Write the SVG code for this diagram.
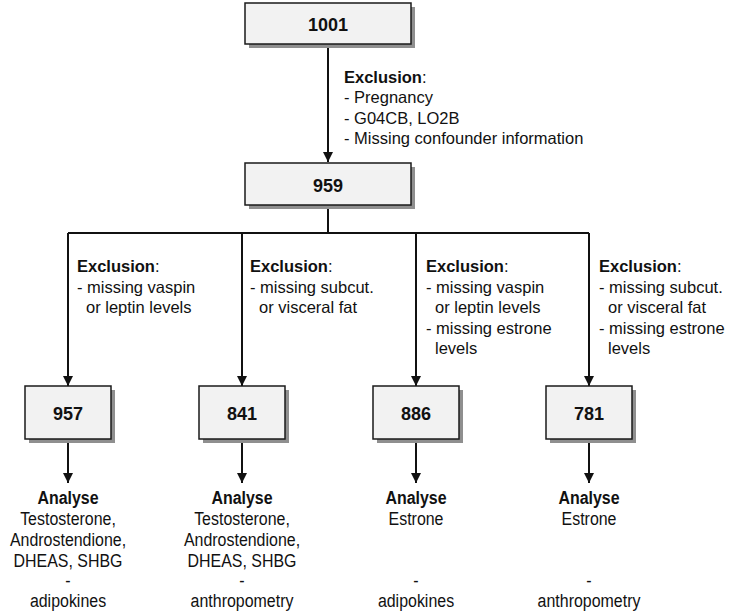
<svg xmlns="http://www.w3.org/2000/svg" width="733" height="613" viewBox="0 0 733 613">
<style>
.box{fill:#f2f2f2;stroke:#1a1a1a;stroke-width:1.5}
.sh{fill:#8f8f8f}
.num{font-family:"Liberation Sans",Arial,sans-serif;font-size:18px;font-weight:bold;text-anchor:middle;fill:#111}
.t{font-family:"Liberation Sans",Arial,sans-serif;font-size:16.5px;fill:#111}
.an{font-family:"Liberation Sans",Arial,sans-serif;font-size:19px;fill:#111;text-anchor:middle}
.b{font-weight:bold}
.ln{stroke:#111;stroke-width:2;fill:none}
</style>
<defs>
<marker id="ah" viewBox="0 0 10 10" refX="10" refY="5" markerWidth="10" markerHeight="10" markerUnits="userSpaceOnUse" orient="auto">
<path d="M0,0 L10,5 L0,10 Z" fill="#111"/>
</marker>
</defs>
<g id="connectors">
<path class="ln" d="M328,44 V162" marker-end="url(#ah)"/>
<path class="ln" d="M328,205 V233"/>
<path class="ln" d="M68,233 H589"/>
<path class="ln" d="M68,233 V386" marker-end="url(#ah)"/>
<path class="ln" d="M242,233 V386" marker-end="url(#ah)"/>
<path class="ln" d="M416,233 V386" marker-end="url(#ah)"/>
<path class="ln" d="M589,233 V386" marker-end="url(#ah)"/>
<path class="ln" d="M68,439 V483" marker-end="url(#ah)"/>
<path class="ln" d="M242,439 V483" marker-end="url(#ah)"/>
<path class="ln" d="M416,439 V483" marker-end="url(#ah)"/>
<path class="ln" d="M589,439 V483" marker-end="url(#ah)"/>
</g>
<g id="n1001">
<rect class="sh" x="249" y="7" width="166" height="41"/>
<rect class="box" x="245" y="3" width="166" height="41"/>
<text class="num" x="328" y="31">1001</text>
</g>
<g id="excl0">
<text class="t" x="344" y="83"><tspan class="b">Exclusion</tspan>:</text>
<text class="t" x="344" y="103">- Pregnancy</text>
<text class="t" x="344" y="124">- G04CB, LO2B</text>
<text class="t" x="344" y="144">- Missing confounder information</text>
</g>
<g id="n959">
<rect class="sh" x="249" y="167" width="166" height="42"/>
<rect class="box" x="245" y="163" width="166" height="42"/>
<text class="num" x="328" y="192">959</text>
</g>
<g id="excl1">
<text class="t" x="77" y="272"><tspan class="b">Exclusion</tspan>:</text>
<text class="t" x="77" y="293">- missing vaspin</text>
<text class="t" x="86" y="313">or leptin levels</text>
</g>
<g id="excl2">
<text class="t" x="250" y="272"><tspan class="b">Exclusion</tspan>:</text>
<text class="t" x="250" y="293">- missing subcut.</text>
<text class="t" x="259" y="313">or visceral fat</text>
</g>
<g id="excl3">
<text class="t" x="426" y="272"><tspan class="b">Exclusion</tspan>:</text>
<text class="t" x="426" y="293">- missing vaspin</text>
<text class="t" x="435" y="313">or leptin levels</text>
<text class="t" x="426" y="334">- missing estrone</text>
<text class="t" x="435" y="354">levels</text>
</g>
<g id="excl4">
<text class="t" x="599" y="272"><tspan class="b">Exclusion</tspan>:</text>
<text class="t" x="599" y="293">- missing subcut.</text>
<text class="t" x="608" y="313">or visceral fat</text>
<text class="t" x="599" y="334">- missing estrone</text>
<text class="t" x="608" y="354">levels</text>
</g>
<g id="n957">
<rect class="sh" x="29" y="390" width="86" height="53"/>
<rect class="box" x="25" y="386" width="86" height="53"/>
<text class="num" x="68" y="420">957</text>
</g>
<g id="n841">
<rect class="sh" x="203" y="390" width="86" height="53"/>
<rect class="box" x="199" y="386" width="86" height="53"/>
<text class="num" x="242" y="420">841</text>
</g>
<g id="n886">
<rect class="sh" x="377" y="390" width="86" height="53"/>
<rect class="box" x="373" y="386" width="86" height="53"/>
<text class="num" x="416" y="420">886</text>
</g>
<g id="n781">
<rect class="sh" x="550" y="390" width="86" height="53"/>
<rect class="box" x="546" y="386" width="86" height="53"/>
<text class="num" x="589" y="420">781</text>
</g>
<g id="a1" transform="translate(68,0) scale(0.84,1)">
<text class="an b" x="0" y="504">Analyse</text>
<text class="an" x="0" y="525">Testosterone,</text>
<text class="an" x="0" y="546">Androstendione,</text>
<text class="an" x="0" y="567">DHEAS, SHBG</text>
<text class="an" x="0" y="587">-</text>
<text class="an" x="0" y="607">adipokines</text>
</g>
<g id="a2" transform="translate(242,0) scale(0.84,1)">
<text class="an b" x="0" y="504">Analyse</text>
<text class="an" x="0" y="525">Testosterone,</text>
<text class="an" x="0" y="546">Androstendione,</text>
<text class="an" x="0" y="567">DHEAS, SHBG</text>
<text class="an" x="0" y="587">-</text>
<text class="an" x="0" y="607">anthropometry</text>
</g>
<g id="a3" transform="translate(416,0) scale(0.84,1)">
<text class="an b" x="0" y="504">Analyse</text>
<text class="an" x="0" y="525">Estrone</text>
<text class="an" x="0" y="587">-</text>
<text class="an" x="0" y="607">adipokines</text>
</g>
<g id="a4" transform="translate(589,0) scale(0.84,1)">
<text class="an b" x="0" y="504">Analyse</text>
<text class="an" x="0" y="525">Estrone</text>
<text class="an" x="0" y="587">-</text>
<text class="an" x="0" y="607">anthropometry</text>
</g>
</svg>
